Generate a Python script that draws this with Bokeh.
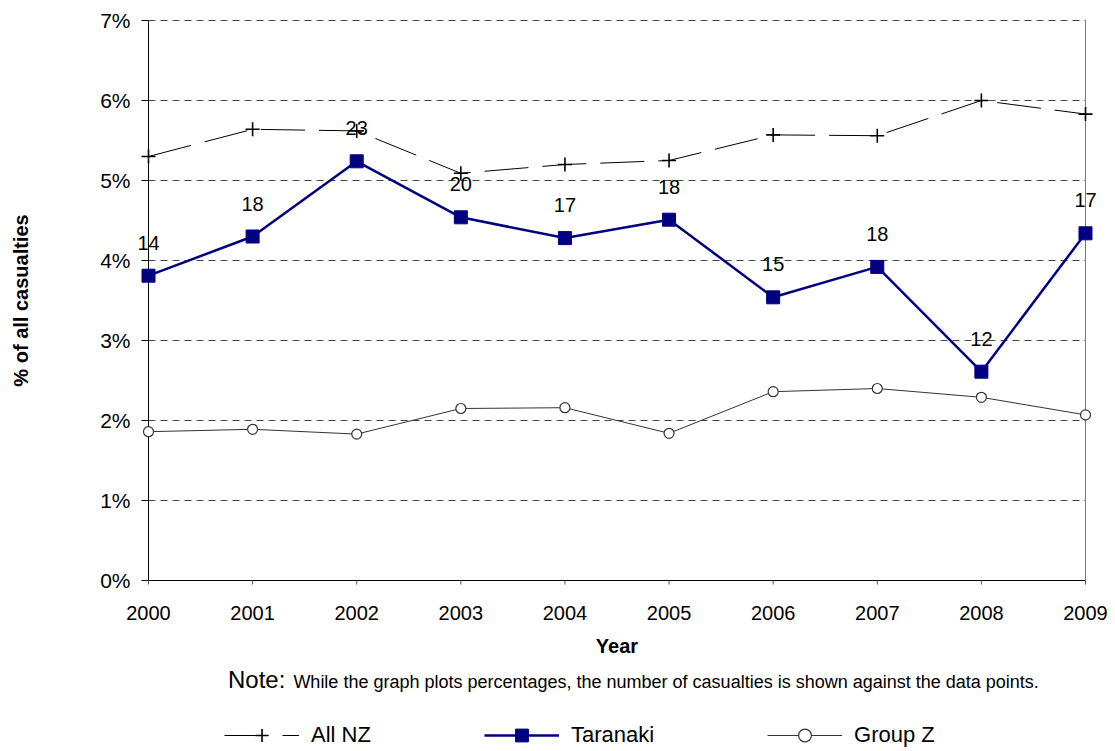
import numpy as np
from bokeh.plotting import figure
from bokeh.models import (ColumnDataSource, LabelSet, Legend, LegendItem, Div,
                          FixedTicker, CustomJSTickFormatter, Range1d)
from bokeh.layouts import column
from bokeh.core.properties import value
from bokeh.embed import file_html
from bokeh.resources import INLINE

years = [2000, 2001, 2002, 2003, 2004, 2005, 2006, 2007, 2008, 2009]
all_nz = [5.30, 5.64, 5.62, 5.09, 5.20, 5.25, 5.57, 5.56, 6.00, 5.83]
taranaki = [3.81, 4.30, 5.24, 4.54, 4.28, 4.51, 3.54, 3.92, 2.61, 4.34]
group_z = [1.86, 1.89, 1.83, 2.15, 2.16, 1.84, 2.36, 2.40, 2.29, 2.07]
taranaki_counts = ["14", "18", "23", "20", "17", "18", "15", "18", "12", "17"]
y_ticks = [0, 1, 2, 3, 4, 5, 6, 7]

FONT = "Liberation Sans"

pad = 14 / 104.11
p = figure(width=1110, height=665, output_backend="svg", toolbar_location=None,
           x_range=Range1d(years[0] - pad, years[-1] + pad),
           y_range=Range1d(y_ticks[0] - 0.05, y_ticks[-1] + 0.05),
           min_border_left=134, min_border_right=11, min_border_top=16,
           min_border_bottom=81, margin=0)
p.outline_line_color = None
p.grid.visible = False

p.yaxis.ticker = FixedTicker(ticks=y_ticks)
p.yaxis.formatter = CustomJSTickFormatter(code="return tick.toFixed(0) + '%';")
p.yaxis.axis_line_color = None
p.yaxis.major_tick_line_color = None
p.yaxis.major_tick_out = 0
p.yaxis.minor_tick_line_color = None
p.yaxis.major_label_text_font = FONT
p.yaxis.major_label_text_font_size = "21px"
p.yaxis.major_label_text_color = "black"
p.yaxis.major_label_standoff = 4
p.yaxis.axis_label = "% of all casualties"
p.yaxis.axis_label_text_font = FONT
p.yaxis.axis_label_text_font_style = "bold"
p.yaxis.axis_label_text_font_size = "20px"
p.yaxis.axis_label_text_color = "black"
p.yaxis.axis_label_standoff = 65

p.xaxis.ticker = FixedTicker(ticks=years)
p.xaxis.axis_line_color = None
p.xaxis.major_tick_line_color = None
p.xaxis.major_tick_out = 0
p.xaxis.minor_tick_line_color = None
p.xaxis.major_label_text_font = FONT
p.xaxis.major_label_text_font_size = "20px"
p.xaxis.major_label_text_color = "black"
p.xaxis.major_label_standoff = 21
p.xaxis.axis_label = "Year"
p.xaxis.axis_label_text_font = FONT
p.xaxis.axis_label_text_font_style = "bold"
p.xaxis.axis_label_text_font_size = "20px"
p.xaxis.axis_label_text_color = "black"
p.xaxis.axis_label_standoff = 12

gy = y_ticks[1:]
p.segment(x0=[years[0]] * len(gy), x1=[years[-1]] * len(gy), y0=gy, y1=gy,
          line_color="#444444", line_dash="7 5", line_width=1)
p.segment(x0=[years[0]], x1=[years[-1]], y0=[y_ticks[0]], y1=[y_ticks[0]],
          line_color="black", line_width=1)
p.segment(x0=[years[0]], x1=[years[0]], y0=[y_ticks[0]], y1=[y_ticks[-1]],
          line_color="black", line_width=1)
p.segment(x0=[years[-1]], x1=[years[-1]], y0=[y_ticks[0]], y1=[y_ticks[-1]],
          line_color="#777777", line_width=1)
p.ray(x=[years[0]] * len(y_ticks), y=y_ticks, length=7, length_units="screen",
      angle=np.pi, line_color="black", line_width=1)
p.ray(x=years, y=[y_ticks[0]] * len(years), length=6, length_units="screen",
      angle=-np.pi / 2, line_color="#555555", line_width=1)

STY = {
    "nz_line": dict(line_color="black", line_width=1, line_dash="44 14"),
    "nz_mark": dict(marker="cross", size=14, line_color="black", line_width=1.6),
    "ta_line": dict(line_color="#000080", line_width=2.5),
    "ta_mark": dict(marker="square", size=13, fill_color="#000080", line_color="#000080"),
    "gz_line": dict(line_color="#333333", line_width=1),
    "gz_mark": dict(marker="circle", size=10, fill_color="white", line_color="#333333",
                    line_width=1.2),
}

p.line(years, all_nz, **STY["nz_line"])
p.scatter(years, all_nz, **STY["nz_mark"])
p.line(years, taranaki, **STY["ta_line"])
p.scatter(years, taranaki, **STY["ta_mark"])
p.line(years, group_z, **STY["gz_line"])
p.scatter(years, group_z, **STY["gz_mark"])

src = ColumnDataSource(dict(x=years, y=taranaki, t=taranaki_counts))
labels = LabelSet(x="x", y="y", text="t", source=src, y_offset=33,
                  text_align="center", text_baseline="middle",
                  text_font=value(FONT), text_font_size=value("20px"),
                  text_color="black")
p.add_layout(labels)

note = Div(text=(f'<div style="padding-left:228px; white-space:nowrap; color:black; '
                 f'font-family:\'{FONT}\'; line-height:30px;">'
                 '<span style="font-size:24px">Note:</span>'
                 '<span style="font-size:18px; margin-left:8px">While the graph plots percentages, '
                 'the number of casualties is shown against the data points.</span></div>'),
           width=1110, height=45, margin=0)

# legend strip: same series, kept out of its (empty) view so only the legend shows
lf = figure(width=1110, height=41, output_backend="svg", toolbar_location=None,
            min_border=0, x_range=Range1d(-10, -9), y_range=Range1d(-10, -9), margin=0)
lf.axis.visible = False
lf.grid.visible = False
lf.outline_line_color = None
r1 = lf.line(years, all_nz, **STY["nz_line"])
r1m = lf.scatter(years, all_nz, **STY["nz_mark"])
r2 = lf.line(years, taranaki, **STY["ta_line"])
r2m = lf.scatter(years, taranaki, **STY["ta_mark"])
r3 = lf.line(years, group_z, **STY["gz_line"])
r3m = lf.scatter(years, group_z, **STY["gz_mark"])
legend = Legend(items=[LegendItem(label="All NZ", renderers=[r1, r1m]),
                       LegendItem(label="Taranaki", renderers=[r2, r2m]),
                       LegendItem(label="Group Z", renderers=[r3, r3m])],
                orientation="horizontal", location=(90, 0), padding=0, margin=0,
                spacing=113, glyph_width=75, glyph_height=32, label_height=32,
                label_standoff=12, label_text_font=FONT, label_text_font_size="22px",
                label_text_color="black", border_line_color=None,
                background_fill_alpha=0)
lf.add_layout(legend)

layout = column(p, note, lf, spacing=0)
open("out.html", "w").write(file_html(layout, INLINE))
